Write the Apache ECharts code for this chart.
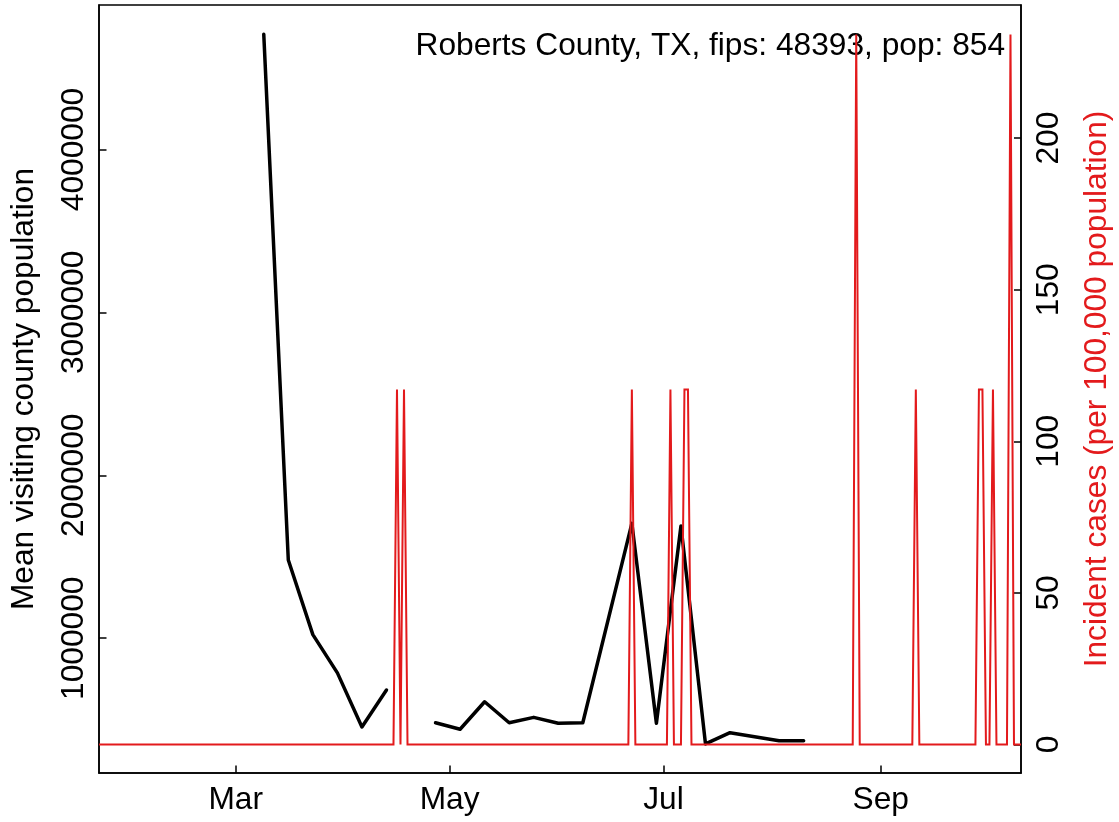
<!DOCTYPE html>
<html><head><meta charset="utf-8">
<script src="https://cdn.jsdelivr.net/npm/echarts@6/dist/echarts.min.js"></script>
<style>html,body{margin:0;padding:0;background:#fff}#c{width:1119px;height:822px}</style>
</head><body><div id="c"></div>
<script>
// ---- data ----
const visitDates = ['2020-03-09','2020-03-16','2020-03-23','2020-03-30','2020-04-06','2020-04-13','2020-04-20',
  '2020-04-27','2020-05-04','2020-05-11','2020-05-18','2020-05-25','2020-06-01','2020-06-08',
  '2020-06-22','2020-06-29','2020-07-06','2020-07-13','2020-07-20','2020-07-27','2020-08-03','2020-08-10'];
const visitValues = [4707000,1480000,1022000,787000,455000,682000,null,
  481000,441000,610000,481000,514000,478000,481000,
  1705000,478000,1689000,351000,420000,395000,371000,371000];

const caseStart = '2020-01-22';
const caseEnd = '2020-10-11';
const caseDates = ['2020-04-16','2020-04-18','2020-06-22','2020-07-03','2020-07-07','2020-07-08',
  '2020-08-25','2020-09-11','2020-09-29','2020-09-30','2020-10-03','2020-10-08'];
const caseValues = [117.1,117.1,117.1,117.1,117.1,117.1,234.2,117.1,117.1,117.1,117.1,234.2];

const xTickDates = ['2020-03-01','2020-05-01','2020-07-01','2020-09-01'];
const xTickLabels = ['Mar','May','Jul','Sep'];
const leftTicks = [1000000,2000000,3000000,4000000];
const rightTicks = [0,50,100,150,200];

const xRange = ['2020-01-22','2020-10-11'];
const leftRange = [172500, 4887000];
const rightRange = [-9.4, 243.9];

const annotation = 'Roberts County, TX, fips: 48393, pop: 854';
const leftTitle = 'Mean visiting county population';
const rightTitle = 'Incident cases (per 100,000 population)';

// ---- helpers ----
function dayOf(s){const p=s.split('-').map(Number);return Math.round((Date.UTC(p[0],p[1]-1,p[2])-Date.UTC(p[0],0,1))/864e5);}
const visitSeries = visitDates.map((d,i)=>[dayOf(d), visitValues[i]]);
const caseMap = {}; caseDates.forEach((d,i)=>{caseMap[dayOf(d)]=caseValues[i];});
const caseSeries = [];
for(let d=dayOf(caseStart); d<=dayOf(caseEnd); d++){ caseSeries.push([d, caseMap[d]!==undefined?caseMap[d]:0]); }
const xTickVals = xTickDates.map(dayOf);

const FONT = "'Liberation Sans', Arial, Helvetica, sans-serif";
const RED = '#E31A1C';
const FS = 31.7;

const chart = echarts.init(document.getElementById('c'), null, {renderer:'canvas'});
chart.setOption({
  animation:false,
  backgroundColor:'#fff',
  grid:{left:99, right:98, top:5, bottom:49, show:true, borderColor:'#000', borderWidth:1.5, backgroundColor:'transparent'},
  xAxis:{
    type:'value', min:dayOf(xRange[0]), max:dayOf(xRange[1]),
    splitLine:{show:false},
    axisLine:{show:true, onZero:false, lineStyle:{color:'#000', width:1.5}},
    axisTick:{show:true, inside:true, length:7.5, customValues:xTickVals, lineStyle:{color:'#000', width:1.5}},
    axisLabel:{show:true, customValues:xTickVals, margin:11, fontSize:FS, fontFamily:FONT, color:'#000',
      formatter:v=>xTickLabels[xTickVals.indexOf(Math.round(v))]}
  },
  yAxis:[{
    type:'value', position:'left', min:leftRange[0], max:leftRange[1],
    splitLine:{show:false},
    axisLine:{show:true, onZero:false, lineStyle:{color:'#000', width:1.5}},
    axisTick:{show:true, inside:true, length:7.5, customValues:leftTicks, lineStyle:{color:'#000', width:1.5}},
    axisLabel:{show:true, customValues:leftTicks, rotate:90, margin:9, fontSize:FS, fontFamily:FONT, color:'#000',
      formatter:v=>String(Math.round(v))}
  },{
    type:'value', position:'right', min:rightRange[0], max:rightRange[1],
    splitLine:{show:false},
    axisLine:{show:true, onZero:false, lineStyle:{color:'#000', width:1.5}},
    axisTick:{show:true, inside:true, length:7, customValues:rightTicks, lineStyle:{color:'#000', width:1.5}},
    axisLabel:{show:true, customValues:rightTicks, rotate:90, margin:12, fontSize:FS, fontFamily:FONT, color:'#000',
      formatter:v=>String(Math.round(v))}
  }],
  series:[{
    type:'line', yAxisIndex:0, data:visitSeries, showSymbol:false, symbol:'none', connectNulls:false,
    lineStyle:{color:'#000', width:3.5, join:'round', cap:'round'}, clip:true
  },{
    type:'line', yAxisIndex:1, data:caseSeries, showSymbol:false, symbol:'none',
    lineStyle:{color:RED, width:2, join:'miter'}, clip:true
  }],
  graphic:[
    {type:'text', x:1005, y:46, style:{text:annotation, fontSize:FS, fontFamily:FONT, fill:'#000', align:'right', verticalAlign:'middle'}},
    {type:'text', x:24, y:389, rotation:Math.PI/2, style:{text:leftTitle, fontSize:FS, fontFamily:FONT, fill:'#000', align:'center', verticalAlign:'middle'}},
    {type:'text', x:1097, y:389, rotation:Math.PI/2, style:{text:rightTitle, fontSize:FS, fontFamily:FONT, fill:RED, align:'center', verticalAlign:'middle'}}
  ]
});
</script></body></html>
